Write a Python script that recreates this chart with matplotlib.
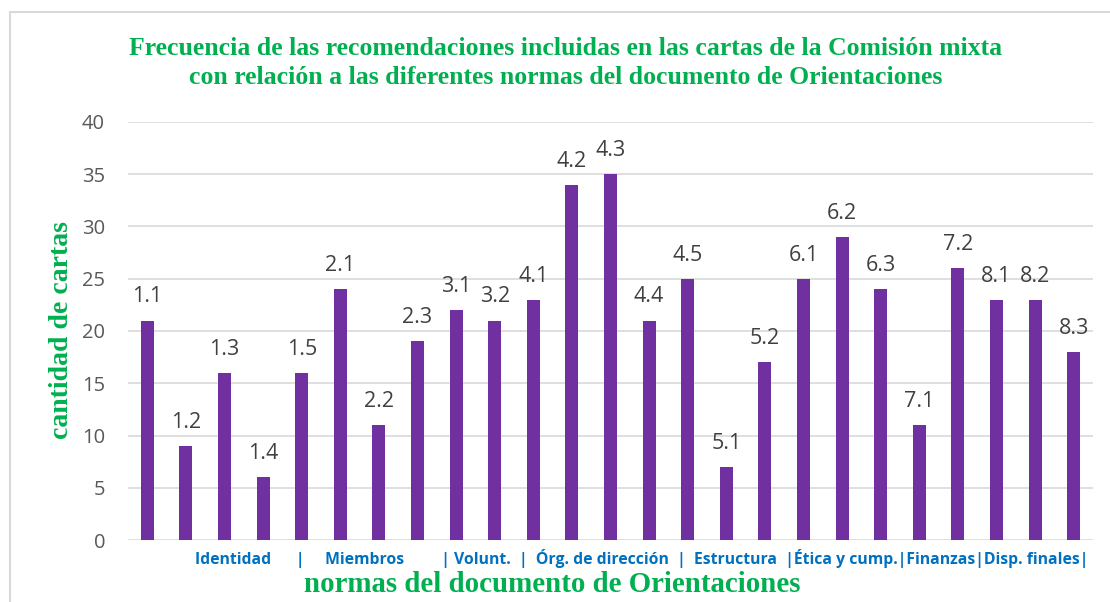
import matplotlib
matplotlib.use("Agg")
import matplotlib.pyplot as plt
from matplotlib.patches import Rectangle

categories = ["1.1", "1.2", "1.3", "1.4", "1.5", "2.1", "2.2", "2.3", "3.1", "3.2",
              "4.1", "4.2", "4.3", "4.4", "4.5", "5.1", "5.2", "6.1", "6.2", "6.3",
              "7.1", "7.2", "8.1", "8.2", "8.3"]
values = [21, 9, 16, 6, 16, 24, 11, 19, 22, 21,
          23, 34, 35, 21, 25, 7, 17, 25, 29, 24,
          11, 26, 23, 23, 18]
group_row = "Identidad      |     Miembros         | Volunt.  |  Órg. de dirección  |  Estructura  |Ética y cump.|Finanzas|Disp. finales|"
yticks = [0, 5, 10, 15, 20, 25, 30, 35, 40]

title = ("Frecuencia de las recomendaciones incluidas en las cartas de la Comisión mixta\n"
         "con relación a las diferentes normas del documento de Orientaciones")
xlabel = "normas del documento de Orientaciones"
ylabel = "cantidad de cartas"

green = "#00B050"
purple = "#7030A0"
blue = "#0070C0"

W, H = 1110, 602
fig = plt.figure(figsize=(W / 100, H / 100), dpi=100)
fig.patch.set_facecolor("white")
fig.patches.append(Rectangle((10 / W, -0.01), 1.2, 1 - 12 / H + 0.01, transform=fig.transFigure,
                             fill=False, edgecolor="#d9d9d9", linewidth=1.5))

ax = fig.add_axes([128 / W, 1 - 540 / H, (1093 - 128) / W, (540 - 122) / H])
x = list(range(len(values)))
ax.bar(x, values, width=0.34, color=purple, zorder=3)
ax.set_xlim(-0.5, len(values) - 0.5)
ax.set_ylim(0, 40)
ax.set_yticks(yticks)
ax.set_yticklabels([str(t) for t in yticks], fontsize=14.5, color="#595959", family="Open Sans")
ax.tick_params(axis="y", length=0, pad=16.5)
ax.set_xticks([])
for s in ax.spines.values():
    s.set_visible(False)
ax.grid(axis="y", color="#d9d9d9", linewidth=1.2, zorder=0)
ax.set_axisbelow(True)

for xi, v, c in zip(x, values, categories):
    ax.annotate(c, (xi, v), xytext=(0, 13), textcoords="offset points", ha="center",
                va="baseline", fontsize=15.5, color="#404040", family="Open Sans")

fig.text(195 / W, 1 - 558 / H, group_row, ha="left", va="center", fontsize=11.3,
         color=blue, fontweight="bold", family="Open Sans")
fig.text(552 / W, 1 - 584 / H, xlabel, ha="center", va="center", fontsize=20.8,
         color=green, fontweight="bold", family="Liberation Serif")
fig.text(62 / W, 1 - 330 / H, ylabel, ha="center", va="center", rotation=90, fontsize=20,
         color=green, fontweight="bold", family="Liberation Serif")
fig.text(566 / W, 1 - 63 / H, title, ha="center", va="center", fontsize=18.5,
         color=green, fontweight="bold", family="Liberation Serif", linespacing=1.3)

fig.savefig("out.png", dpi=100)
